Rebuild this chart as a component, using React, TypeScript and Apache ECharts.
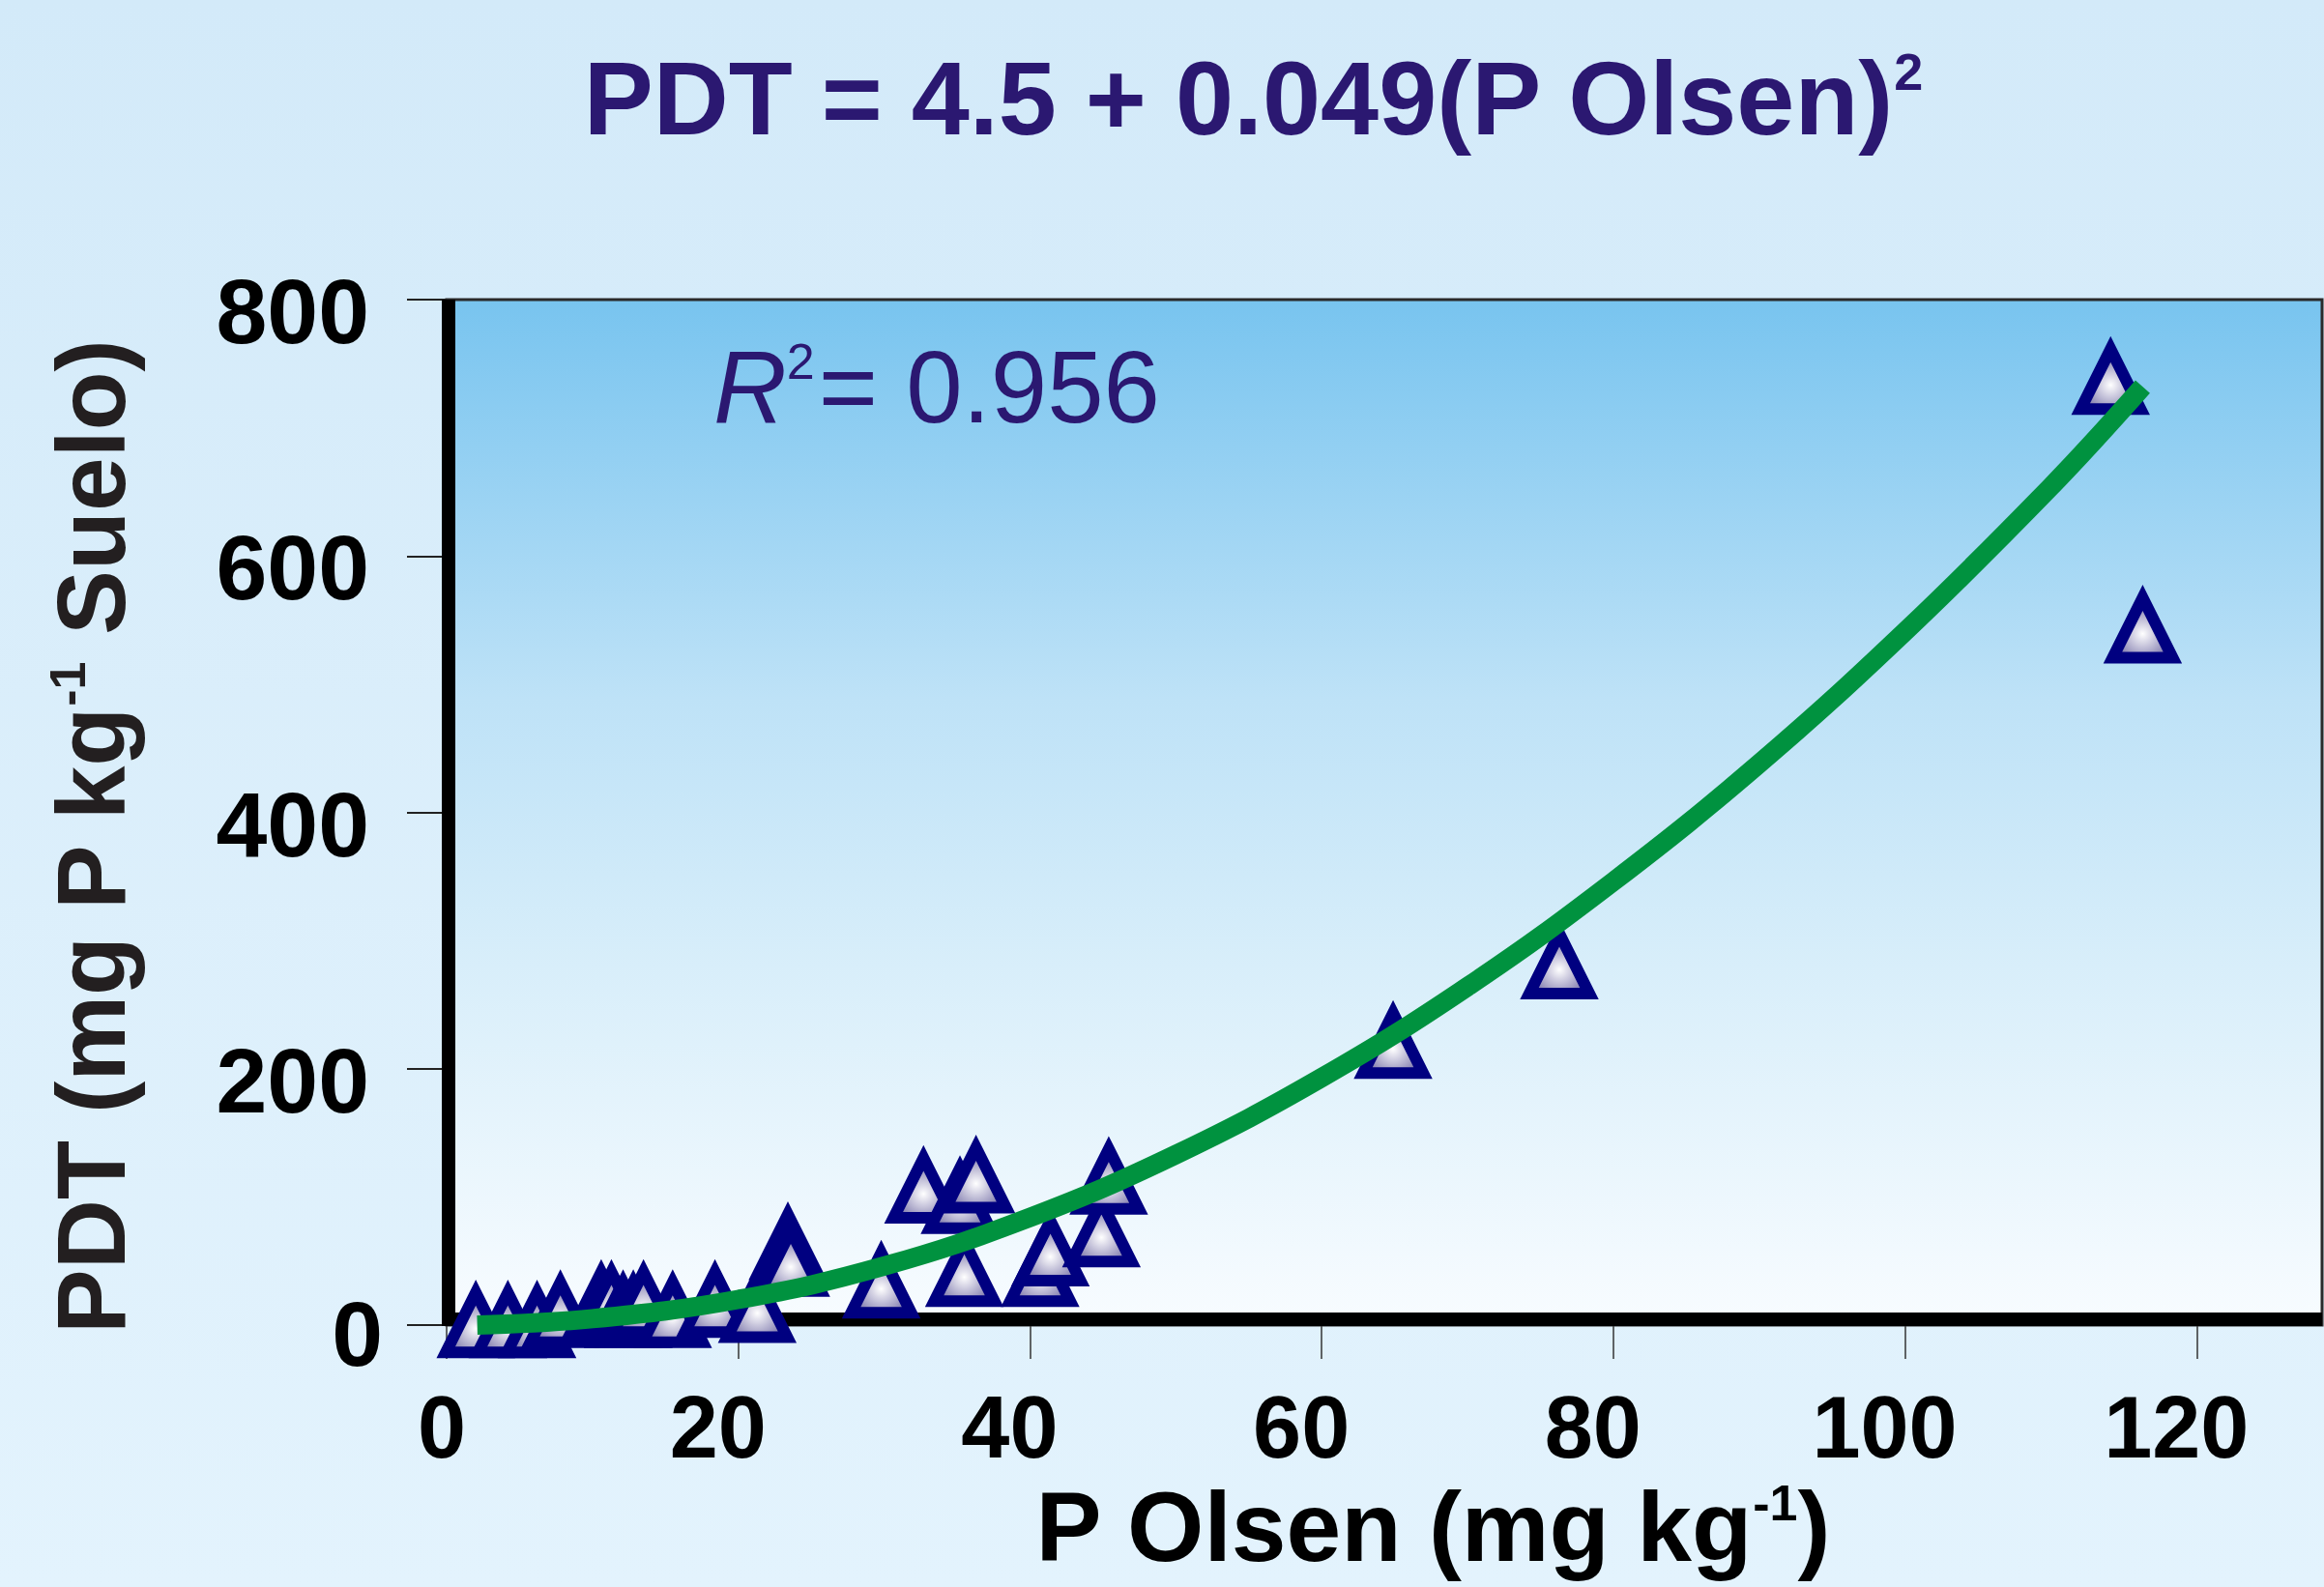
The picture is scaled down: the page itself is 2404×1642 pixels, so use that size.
import React, { useEffect, useRef } from 'react';
import * as echarts from 'echarts';

// Observed data points (P Olsen, PDT)
const pOlsen = [2.0, 4.2, 6.2, 7.8, 10.6, 11.3, 12.1, 12.8, 13.5, 15.5, 18.4, 21.3, 23.4, 23.6, 29.8, 32.7, 35.2, 36.3, 35.5, 40.7, 41.4, 44.9, 45.4, 64.9, 76.3, 114.1, 116.3];
const pdt = [2, 2, 2, 10, 18, 18, 10, 10, 18, 10, 18, 14, 63, 50, 33, 107, 99, 115, 42, 42, 58, 73, 114, 220, 282, 738, 544];

// Trend curve
const fitX = [2.1, 10, 20, 30, 40, 50, 60, 70, 80, 90, 100, 110, 116.3];
const fitY = [0, 5, 20, 46, 84, 133, 193, 264, 346, 438, 541, 654, 732];

const xTicks = [0, 20, 40, 60, 80, 100, 120];
const yTicks = [0, 200, 400, 600, 800];

const titleMain = 'PDT = 4.5 + 0.049(P Olsen)';
const titleSup = '2';
const r2Text = '= 0.956';
const yTitleA = 'PDT (mg P kg';
const yTitleB = ' Suelo)';
const xTitleA = 'P Olsen (mg kg';
const xTitleB = ')';
const supMinusOne = '-1';

export default function App() {
  const ref = useRef<HTMLDivElement>(null);
  useEffect(() => {
    const chart = echarts.init(ref.current as HTMLDivElement, null, { renderer: 'svg' });
    const FONT = '"Liberation Sans", Arial, sans-serif';
    const navy = '#2B1871';
    const W = 2404;
    const H = 1642;
    const gl = 462, gr = 2, gt = 310, gb = 271;

    const option: any = {
      animation: false,
      backgroundColor: new echarts.graphic.LinearGradient(0, 0, 0, 1, [
        { offset: 0, color: '#D3EAF9' },
        { offset: 1, color: '#E3F3FD' },
      ]),
      grid: {
        left: gl, right: gr, top: gt, bottom: gb,
        show: true,
        borderColor: '#2a2a2a',
        borderWidth: 3,
        backgroundColor: new echarts.graphic.LinearGradient(0, 0, 0, 1, [
          { offset: 0, color: '#78C4EF' },
          { offset: 0.39, color: '#BEE2F7' },
          { offset: 0.65, color: '#D8EEFA' },
          { offset: 1, color: '#F8FCFF' },
        ]),
      },
      xAxis: {
        type: 'value',
        min: 0,
        max: 128.6,
        interval: 20,
        axisLine: { show: false },
        splitLine: { show: false },
        axisTick: { show: true, length: 35, customValues: xTicks, lineStyle: { color: '#333', width: 1.5 } },
        axisLabel: {
          customValues: xTicks,
          margin: 61,
          fontSize: 90,
          fontWeight: 'bold',
          fontFamily: FONT,
          color: '#000',
          formatter: (v: number) => (v === 0 ? '{z|0}' : '{n|' + v + '}'),
          rich: {
            n: { padding: [0, 42, 0, 0], fontSize: 90, fontWeight: 'bold', fontFamily: FONT, color: '#000' },
            z: { padding: [0, 10, 0, 0], fontSize: 90, fontWeight: 'bold', fontFamily: FONT, color: '#000' },
          },
        },
      },
      yAxis: {
        type: 'value',
        min: 0,
        max: 800,
        interval: 200,
        axisLine: { show: false },
        splitLine: { show: false },
        axisTick: { show: true, length: 41, customValues: yTicks, lineStyle: { color: '#222', width: 2 } },
        axisLabel: {
          customValues: yTicks,
          margin: 66,
          fontSize: 95,
          fontWeight: 'bold',
          fontFamily: FONT,
          color: '#000',
          formatter: (v: number) => (v === 0 ? '{z|0}' : '{n|' + v + '}'),
          rich: {
            n: { padding: [24, 14, 0, 0], fontSize: 95, fontWeight: 'bold', fontFamily: FONT, color: '#000' },
            z: { padding: [18, 0, 0, 0], fontSize: 95, fontWeight: 'bold', fontFamily: FONT, color: '#000' },
          },
        },
      },
      series: [
        {
          type: 'scatter',
          z: 2,
          symbol: 'triangle',
          symbolSize: [62, 62],
          data: pOlsen.map((x, i) => [x, pdt[i]]),
          itemStyle: {
            color: new echarts.graphic.RadialGradient(0.5, 0.6, 0.55, [
              { offset: 0, color: '#FFFFFF' },
              { offset: 1, color: '#6E68A2' },
            ]),
            borderColor: '#000080',
            borderWidth: 12,
            borderJoin: 'miter',
            borderMiterLimit: 10,
            opacity: 1,
          },
        },
        {
          type: 'line',
          z: 3,
          smooth: 0.4,
          showSymbol: false,
          symbol: 'none',
          data: fitX.map((x, i) => [x, fitY[i]]),
          lineStyle: { color: '#00923F', width: 20, cap: 'butt' },
        },
      ],
      graphic: [
        { type: 'rect', z: 1, silent: true, shape: { x: gl - 5, y: gt, width: 14, height: H - gb - gt + 1 }, style: { fill: '#000' } },
        { type: 'rect', z: 1, silent: true, shape: { x: gl - 5, y: H - gb - 13, width: W - gr - gl + 5, height: 14 }, style: { fill: '#000' } },
        {
          type: 'text', z: 10, x: 1296, y: 101,
          style: {
            text: '{a|' + titleMain + '}{s|' + titleSup + '}',
            align: 'center', verticalAlign: 'middle',
            rich: {
              a: { fontSize: 108, fontWeight: 'bold', fontFamily: FONT, fill: navy, lineHeight: 108, verticalAlign: 'middle' },
              s: { fontSize: 54, fontWeight: 'bold', fontFamily: FONT, fill: navy, lineHeight: 40, verticalAlign: 'top' },
            },
          },
        },
        {
          type: 'text', z: 10, x: 738, y: 400,
          style: {
            text: '{r|R}{s|2}{t|' + r2Text + '}',
            align: 'left', verticalAlign: 'middle',
            rich: {
              r: { fontSize: 105, fontStyle: 'italic', fontFamily: FONT, fill: navy, lineHeight: 105, verticalAlign: 'middle' },
              s: { fontSize: 52, fontFamily: FONT, fill: navy, lineHeight: 40, verticalAlign: 'top', padding: [0, 4, 0, 0] },
              t: { fontSize: 105, fontFamily: FONT, fill: navy, lineHeight: 105, verticalAlign: 'middle' },
            },
          },
        },
        {
          type: 'text', z: 10, x: 94, y: 866, rotation: Math.PI / 2,
          style: {
            text: '{a|' + yTitleA + '}{s|' + supMinusOne + '}{a|' + yTitleB + '}',
            align: 'center', verticalAlign: 'middle',
            rich: {
              a: { fontSize: 100, fontWeight: 'bold', fontFamily: FONT, fill: '#231F20', lineHeight: 100, verticalAlign: 'middle' },
              s: { fontSize: 52, fontWeight: 'bold', fontFamily: FONT, fill: '#231F20', lineHeight: 36, verticalAlign: 'top' },
            },
          },
        },
        {
          type: 'text', z: 10, x: 1482, y: 1580,
          style: {
            text: '{a|' + xTitleA + '}{s|' + supMinusOne + '}{a|' + xTitleB + '}',
            align: 'center', verticalAlign: 'middle',
            rich: {
              a: { fontSize: 102, fontWeight: 'bold', fontFamily: FONT, fill: '#000', lineHeight: 102, verticalAlign: 'middle' },
              s: { fontSize: 52, fontWeight: 'bold', fontFamily: FONT, fill: '#000', lineHeight: 36, verticalAlign: 'top' },
            },
          },
        },
      ],
    };
    chart.setOption(option);
    return () => chart.dispose();
  }, []);
  return <div ref={ref} style={{ position: 'absolute', left: 0, top: 0, width: 2404, height: 1642 }} />;
}
